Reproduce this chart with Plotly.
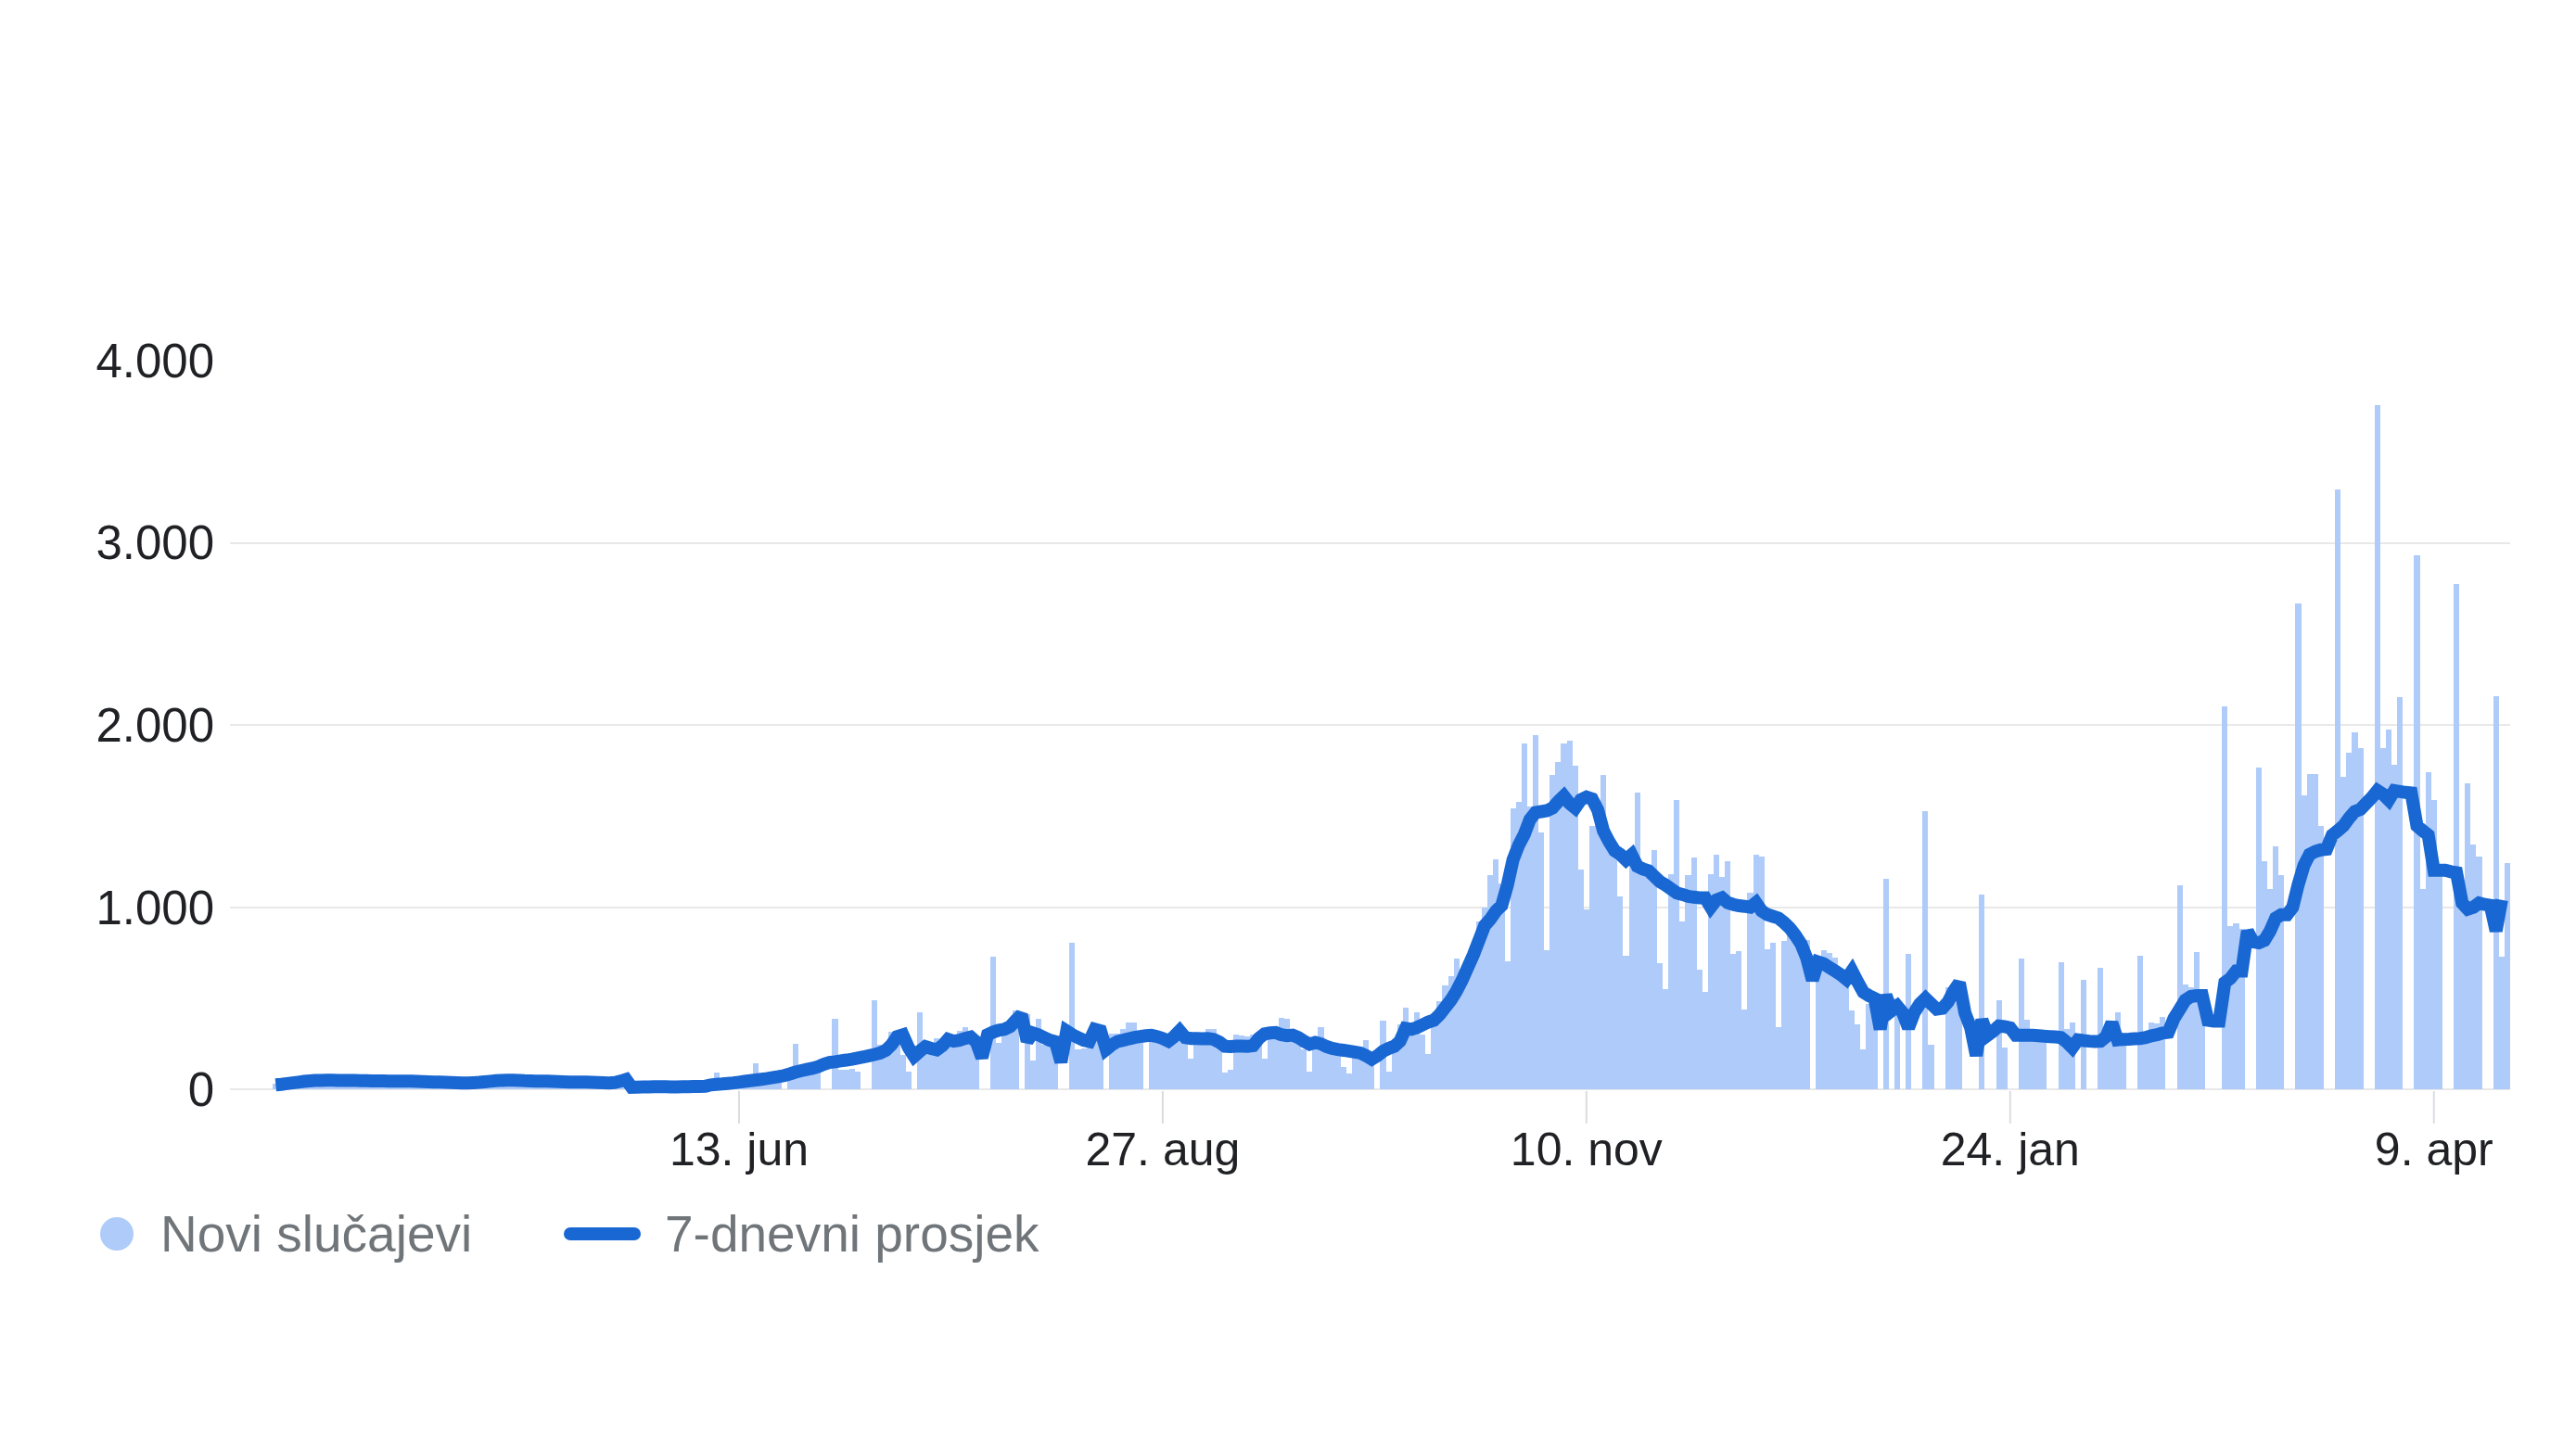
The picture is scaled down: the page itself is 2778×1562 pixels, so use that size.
import pandas as pd
import plotly.graph_objects as go

# ---------------- data ----------------
start_date = "2020-03-23"

# daily new cases, one row = 7 days, starting at start_date
new_cases = [
    30, 22, 35, 40, 38, 52, 55,
    48, 60, 45, 62, 50, 42, 55,
    58, 40, 45, 52, 48, 38, 50,
    55, 42, 48, 40, 45, 38, 44,
    40, 35, 42, 30, 38, 36, 32,
    40, 45, 52, 48, 55, 60, 50,
    58, 45, 42, 50, 48, 40, 44,
    46, 38, 40, 45, 36, 42, 38,
    35, 40, 32, 38, 42, 30, 20,
    10, 15, 12, 18, 14, 20, 16,
    12, 18, 15, 22, 14, 20, 25,
    35, 93, 40, 45, 55, 50, 48,
    30, 144, 60, 55, 70, 65, 0,
    60, 249, 118, 112, 120, 105, 0,
    0, 387, 110, 108, 115, 100, 0,
    0, 492, 246, 250, 314, 310, 190,
    100, 0, 424, 260, 230, 280, 250,
    290, 250, 320, 344, 300, 230, 0,
    0, 729, 254, 300, 356, 432, 0,
    415, 161, 390, 246, 250, 240, 0,
    0, 806, 220, 225, 230, 339, 339,
    0, 305, 305, 334, 365, 365, 314,
    0, 290, 280, 290, 300, 285, 290,
    295, 170, 280, 285, 334, 334, 280,
    95, 110, 300, 295, 290, 300, 310,
    170, 300, 300, 394, 390, 289, 280,
    219, 96, 254, 342, 219, 225, 210,
    123, 88, 200, 205, 272, 184, 0,
    377, 96, 237, 359, 447, 342, 421,
    300, 193, 394, 482, 570, 622, 718,
    605, 620, 727, 920, 999, 1174, 1262,
    1130, 701, 1542, 1577, 1901, 1551, 1945,
    1411, 762, 1726, 1796, 1901, 1915, 1779,
    1209, 990, 1445, 1500, 1726, 1358, 1300,
    1060, 736, 1288, 1630, 1218, 1218, 1314,
    692, 552, 1183, 1586, 920, 1174, 1271,
    657, 534, 1183, 1288, 1165, 1253, 745,
    760, 438, 1078, 1288, 1280, 771, 806,
    342, 815, 894, 850, 800, 820, 0,
    710, 762, 750, 724, 650, 620, 432,
    356, 219, 470, 470, 0, 1157, 0,
    499, 0, 745, 0, 0, 1525, 244,
    0, 0, 561, 500, 480, 0, 0,
    0, 1069, 0, 0, 489, 230, 0,
    0, 718, 382, 315, 310, 315, 0,
    0, 697, 330, 366, 0, 600, 0,
    0, 667, 330, 330, 422, 280, 0,
    0, 733, 300, 366, 360, 397, 0,
    0, 1120, 575, 560, 754, 499, 0,
    0, 0, 2103, 894, 911, 880, 0,
    0, 1769, 1255, 1100, 1332, 1178, 0,
    0, 2669, 1615, 1730, 1730, 1447, 0,
    0, 3291, 1717, 1846, 1962, 1872, 0,
    0, 3754, 1872, 1975, 1782, 2155, 0,
    0, 2931, 1100, 1743, 1589, 1178, 0,
    0, 2772, 1100, 1679, 1345, 1280, 0,
    0, 2160, 728, 1242,
]

# 7-day average, one row = 7 days, starting at start_date
avg7 = [
    25, 28, 32, 36, 40, 44, 47,
    49, 50, 51, 51, 50, 50, 49,
    49, 48, 48, 47, 47, 47, 46,
    46, 46, 45, 45, 44, 43, 42,
    41, 40, 39, 38, 37, 36, 36,
    37, 39, 42, 45, 48, 50, 51,
    51, 50, 48, 47, 46, 46, 45,
    44, 43, 42, 41, 41, 40, 40,
    39, 38, 37, 36, 38, 45, 55,
    12, 13, 14, 14, 15, 15, 15,
    14, 14, 15, 15, 16, 16, 17,
    25, 28, 30, 33, 36, 40, 44,
    48, 52, 56, 60, 65, 70, 76,
    85, 95, 103, 110, 116, 125, 138,
    148, 152, 157, 161, 166, 172, 178,
    185, 192, 200, 215, 245, 290, 300,
    230, 182, 210, 235, 225, 218, 240,
    275, 265, 270, 280, 288, 260, 175,
    300, 315, 325, 330, 345, 380, 410,
    265, 310, 300, 285, 270, 262, 150,
    320, 300, 285, 270, 263, 330, 322,
    220, 245, 263, 270, 278, 285, 290,
    295, 297, 290, 280, 265, 290, 322,
    285, 280, 280, 278, 280, 275, 260,
    237, 235, 237, 237, 236, 240, 280,
    305, 310, 312, 300, 295, 298, 285,
    265, 248, 258, 250, 235, 225, 219,
    215, 210, 205, 200, 185, 166, 185,
    210, 225, 237, 265, 335, 330, 340,
    355, 370, 380, 410, 450, 490, 540,
    600, 670, 740, 820, 900, 935, 980,
    1010, 1120, 1260, 1340, 1400, 1481, 1520,
    1525, 1530, 1545, 1580, 1610, 1570, 1545,
    1590, 1605, 1595, 1535, 1420, 1360, 1310,
    1290, 1260, 1288, 1225, 1210, 1200, 1170,
    1140, 1122, 1100, 1078, 1070, 1060, 1055,
    1052, 1052, 1000, 1040, 1052, 1025, 1015,
    1008, 1005, 1000, 1025, 980, 960, 950,
    940, 915, 885, 845, 797, 720, 600,
    700, 690, 670, 650, 630, 605, 650,
    590, 534, 515, 500, 331, 517, 433,
    458, 420, 338, 420, 470, 500, 470,
    441, 445, 480, 540, 585, 420, 340,
    186, 382, 297, 320, 348, 345, 338,
    297, 297, 297, 297, 295, 292, 290,
    288, 285, 260, 229, 272, 268, 265,
    263, 265, 290, 365, 272, 275, 276,
    278, 280, 285, 295, 300, 310, 314,
    390, 440, 490, 510, 515, 515, 380,
    375, 375, 587, 610, 650, 650, 869,
    810, 805, 818, 870, 940, 959, 959,
    1000, 1126, 1229, 1290, 1306, 1315, 1319,
    1396, 1420, 1447, 1490, 1525, 1537, 1570,
    1602, 1640, 1620, 1589, 1640, 1635, 1630,
    1627, 1447, 1420, 1396, 1203, 1203, 1203,
    1195, 1190, 1023, 990, 1000, 1023, 1015,
    1010, 870, 1040,
]

tick_dates = ["2020-06-13", "2020-08-27", "2020-11-10", "2021-01-24", "2021-04-09"]
tick_labels = ["13. jun", "27. aug", "10. nov", "24. jan", "9. apr"]
y_ticks = [0, 1000, 2000, 3000, 4000]
legend_labels = ["Novi slučajevi", "7-dnevni prosjek"]

# ---------------- styling ----------------
BAR_COLOR = "#aecbfa"
LINE_COLOR = "#1967d2"
GRID_COLOR = "#e8e8e8"
TICK_COLOR = "#dadce0"
FONT = "Liberation Sans, Arial, sans-serif"

W, H = 2778, 1562
L, R, T, B = 248, 71, 389, 375
PW, PH = W - L - R, H - T - B

bar_dates = pd.date_range(start_date, periods=len(new_cases), freq="D")
line_dates = pd.date_range(start_date, periods=len(avg7), freq="D")
ref_day = pd.Timestamp(tick_dates[0])
x_range = [ref_day + pd.Timedelta(days=-90.1), ref_day + pd.Timedelta(days=313.5)]


def px_x(px):
    return (px - L) / PW


def px_y(py):
    return (H - B - py) / PH


fig = go.Figure()
fig.add_trace(go.Bar(
    x=bar_dates, y=new_cases, name=legend_labels[0],
    marker=dict(color=BAR_COLOR, line=dict(width=0)),
    showlegend=False, hoverinfo="skip",
))
fig.add_trace(go.Scatter(
    x=line_dates, y=avg7, name=legend_labels[1], mode="lines",
    line=dict(color=LINE_COLOR, width=14, simplify=False),
    showlegend=False, hoverinfo="skip",
))

shapes = []
# small x tick marks hanging below the zero line
for td in tick_dates:
    shapes.append(dict(type="line", xref="x", yref="paper",
                       x0=td, x1=td, y0=px_y(1177), y1=px_y(1212),
                       line=dict(color=TICK_COLOR, width=2), layer="below"))

# custom legend (circle + rounded line + texts)
shapes.append(dict(type="circle", xref="paper", yref="paper",
                   x0=px_x(108), x1=px_x(144), y0=px_y(1349), y1=px_y(1313),
                   fillcolor=BAR_COLOR, line=dict(width=0), layer="above"))
shapes.append(dict(type="line", xref="paper", yref="paper",
                   x0=px_x(615), x1=px_x(684), y0=px_y(1331), y1=px_y(1331),
                   line=dict(color=LINE_COLOR, width=14), layer="above"))
for cx in (615, 684):
    shapes.append(dict(type="circle", xref="paper", yref="paper",
                       x0=px_x(cx - 7), x1=px_x(cx + 7),
                       y0=px_y(1338), y1=px_y(1324),
                       fillcolor=LINE_COLOR, line=dict(width=0), layer="above"))

annotations = [
    dict(text=legend_labels[0], x=px_x(171), y=px_y(1331), xref="paper", yref="paper",
         xanchor="left", yanchor="middle", showarrow=False,
         font=dict(family=FONT, size=55, color="#70757a")),
    dict(text=legend_labels[1], x=px_x(715), y=px_y(1331), xref="paper", yref="paper",
         xanchor="left", yanchor="middle", showarrow=False,
         font=dict(family=FONT, size=55, color="#70757a")),
]

fig.update_layout(
    width=W, height=H,
    margin=dict(l=L, r=R, t=T, b=B, pad=0),
    paper_bgcolor="white", plot_bgcolor="white",
    bargap=0, barmode="overlay",
    separators=",.",
    font=dict(family=FONT, color="#202124"),
    shapes=shapes, annotations=annotations,
    showlegend=False,
    xaxis=dict(
        type="date", range=x_range,
        tickmode="array", tickvals=tick_dates, ticktext=tick_labels,
        showgrid=False, zeroline=False, showline=False,
        ticks="outside", ticklen=9, tickwidth=1, tickcolor="rgba(0,0,0,0)",
        tickfont=dict(family=FONT, size=50, color="#202124"),
    ),
    yaxis=dict(
        range=[-60, 4000],
        tickmode="array", tickvals=y_ticks, tickformat=",d",
        showgrid=True, gridcolor=GRID_COLOR, gridwidth=2,
        zeroline=True, zerolinecolor=GRID_COLOR, zerolinewidth=2,
        showline=False, ticks="",
        ticklabelstandoff=16,
        tickfont=dict(family=FONT, size=51, color="#202124"),
    ),
)

fig.write_html("out.html")
